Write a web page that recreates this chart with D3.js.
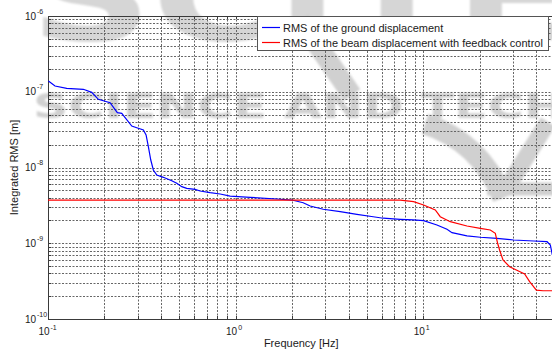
<!DOCTYPE html>
<html>
<head>
<meta charset="utf-8">
<script src="https://cdn.jsdelivr.net/npm/d3@7"></script>
<style>
  html, body { margin: 0; padding: 0; background: #fff; }
  svg { display: block; font-family: "Liberation Sans", Arial, Helvetica, sans-serif; }
</style>
</head>
<body>
<svg id="chart" width="552" height="349"></svg>
<script>
// Integrated RMS of the ground displacement (Hz, m)
const groundFreq = [0.1005, 0.109, 0.1258, 0.1543, 0.171, 0.1855, 0.2142, 0.2342, 0.2472, 0.2796,
  0.2972, 0.3224, 0.3332, 0.3427, 0.353, 0.3643, 0.38, 0.412, 0.4567, 0.4857,
  0.5164, 0.549, 0.608, 0.6465, 0.731, 0.827, 0.935, 1.195, 1.659, 1.994,
  2.291, 2.496, 2.929, 3.609, 4.43, 5.41, 6.12, 7.54, 8.84, 10.04,
  11.83, 13.38, 14.23, 17.1, 20.14, 24.72, 30.31, 38.76, 45.68, 47.57, 48.75];
const groundRms = [1.39e-7, 1.19e-7, 1.11e-7, 1.077e-7, 9.83e-8, 7.95e-8, 7.17e-8, 5.29e-8, 5.19e-8, 3.53e-8,
  3.35e-8, 3.13e-8, 2.69e-8, 1.88e-8, 1.256e-8, 9.27e-9, 7.96e-9, 7.42e-9, 6.69e-9, 6.18e-9,
  5.58e-9, 5.31e-9, 5.15e-9, 4.9e-9, 4.65e-9, 4.47e-9, 4.2e-9, 4.04e-9, 3.84e-9, 3.72e-9,
  3.43e-9, 3.1e-9, 2.81e-9, 2.61e-9, 2.41e-9, 2.24e-9, 2.14e-9, 2.07e-9, 2.03e-9, 1.985e-9,
  1.74e-9, 1.53e-9, 1.38e-9, 1.25e-9, 1.2e-9, 1.162e-9, 1.104e-9, 1.07e-9, 1.048e-9, 9.48e-10, 7.0e-10];

// Integrated RMS of the beam displacement with feedback control (Hz, m)
const beamFreq = [0.1, 7.54, 8.88, 10.04, 11.59, 12.32, 13.93, 17.1, 20.14, 22.77,
  24.21, 24.91, 25.52, 26.61, 28.86, 31.33, 34.7, 36.89, 40.06, 43.5, 50];
const beamRms = [3.72e-9, 3.72e-9, 3.54e-9, 3.2e-9, 2.75e-9, 2.24e-9, 1.925e-9, 1.69e-9, 1.576e-9, 1.496e-9,
  1.353e-9, 9.99e-10, 8.15e-10, 6.01e-10, 4.9e-10, 4.43e-10, 3.93e-10, 3.11e-10, 2.41e-10, 2.36e-10, 2.36e-10];

const seriesNames = ["RMS of the ground displacement", "RMS of the beam displacement with feedback control"];
const seriesColors = ["#0000ff", "#ff0000"];
const xTickExponents = [-1, 0, 1];
const yTickExponents = [-10, -9, -8, -7, -6];
const xLabel = "Frequency [Hz]";
const yLabel = "Integrated RMS [m]";

const svg = d3.select("#chart");
const W = 552, H = 349;
const plot = { left: 48, right: 554.4, top: 16, bottom: 319 };

const x = d3.scaleLog().domain([0.1, 50]).range([plot.left, plot.right]);
const y = d3.scaleLog().domain([1e-10, 1e-6]).range([plot.bottom, plot.top]);

svg.append("rect").attr("width", W).attr("height", H).attr("fill", "#fff");

// ---- publisher watermark (soft grey lettering behind the plot) ----
const defs = svg.append("defs");
defs.append("filter").attr("id", "soft")
  .append("feGaussianBlur").attr("stdDeviation", 0.9);
defs.append("clipPath").attr("id", "plotClip")
  .append("rect").attr("x", plot.left).attr("y", plot.top)
  .attr("width", plot.right - plot.left).attr("height", plot.bottom - plot.top);

const wm = svg.append("g").attr("filter", "url(#soft)").attr("fill", "#d0d0d0").attr("stroke", "#d0d0d0");
wm.append("text")
  .attr("x", 33).attr("y", 118)
  .attr("font-family", "DejaVu Sans").attr("font-weight", "bold").attr("font-size", 34)
  .attr("stroke", "none")
  .attr("textLength", 532).attr("lengthAdjust", "spacingAndGlyphs")
  .text("SCIENCE AND TECH");
wm.append("text")
  .attr("x", 30).attr("y", 40)
  .attr("font-family", "DejaVu Sans").attr("font-weight", "bold").attr("font-size", 120)
  .attr("stroke", "none").attr("fill", "#d6d6d6")
  .attr("textLength", 540).attr("lengthAdjust", "spacingAndGlyphs")
  .text("SCITE");
wm.append("path").attr("fill", "none").attr("stroke-width", 20).attr("stroke-linecap", "butt")
  .attr("d", "M300,20 L352,95");
wm.append("path").attr("fill", "none").attr("stroke-width", 21)
  .attr("d", "M425,124 C460,135 488,160 503,198");
wm.append("path").attr("fill", "none").attr("stroke-width", 17)
  .attr("d", "M548,122 L508,186");
wm.append("path").attr("fill", "none").attr("stroke-width", 13)
  .attr("d", "M487,189 L560,189");

// ---- dotted grid ----
const grid = svg.append("g").attr("stroke", "#666").attr("stroke-width", 1)
  .attr("stroke-dasharray", "2,1.5").attr("fill", "none");
x.ticks().forEach(v => {
  const px = Math.round(x(v)) + 0.5;
  grid.append("line").attr("x1", px).attr("x2", px).attr("y1", plot.top).attr("y2", plot.bottom);
});
y.ticks().forEach(v => {
  const py = Math.round(y(v)) + 0.5;
  grid.append("line").attr("x1", plot.left).attr("x2", plot.right).attr("y1", py).attr("y2", py);
});

// ---- axes with inward ticks ----
const minorY = y.ticks();
const minorX = x.ticks();
const axB = svg.append("g").attr("transform", `translate(0,${plot.bottom})`)
  .call(d3.axisBottom(x).tickValues(minorX).tickSize(-3).tickFormat(""));
const axL = svg.append("g").attr("transform", `translate(${plot.left},0)`)
  .call(d3.axisLeft(y).tickValues(minorY).tickSize(-3).tickFormat(""));
const axT = svg.append("g").attr("transform", `translate(0,${plot.top})`)
  .call(d3.axisTop(x).tickValues(minorX).tickSize(-3).tickFormat(""));
[axB, axL, axT].forEach(g => {
  g.selectAll("path,line").attr("stroke", "#3a3a3a").attr("shape-rendering", "crispEdges");
});

// ---- data lines ----
const line = d3.line().x(d => x(d[0])).y(d => y(d[1]));
const lines = svg.append("g").attr("clip-path", "url(#plotClip)").attr("fill", "none").attr("stroke-width", 1.2);
lines.append("path").attr("stroke", seriesColors[0])
  .attr("d", line(d3.zip(groundFreq, groundRms)));
lines.append("path").attr("stroke", seriesColors[1])
  .attr("d", line(d3.zip(beamFreq, beamRms)));

// ---- tick labels (10 with exponent) ----
const lab = svg.append("g").attr("fill", "#1a1a1a");
yTickExponents.forEach(e => {
  const py = y(Math.pow(10, e));
  lab.append("text").attr("x", 36).attr("y", py + 3.5).attr("text-anchor", "end")
    .attr("font-size", 10).text("10");
  lab.append("text").attr("x", 37).attr("y", py - 2.5)
    .attr("font-size", 7).text(String(e));
});
xTickExponents.forEach(e => {
  const px = x(Math.pow(10, e));
  lab.append("text").attr("x", px + 1.5).attr("y", 335).attr("text-anchor", "end")
    .attr("font-size", 10).text("10");
  lab.append("text").attr("x", px + 2.5).attr("y", 329.5)
    .attr("font-size", 7).text(String(e));
});

// ---- axis titles ----
svg.append("text").attr("x", (plot.left + plot.right) / 2).attr("y", 347)
  .attr("text-anchor", "middle").attr("font-size", 11).attr("fill", "#1a1a1a").text(xLabel);
svg.append("text").attr("transform", `translate(18,${(plot.top + plot.bottom) / 2}) rotate(-90)`)
  .attr("text-anchor", "middle").attr("font-size", 11).attr("fill", "#1a1a1a").text(yLabel);

// ---- legend ----
const leg = svg.append("g");
leg.append("rect").attr("x", 257.5).attr("y", 16.5).attr("width", 291).attr("height", 34)
  .attr("fill", "#fff").attr("stroke", "#555").attr("stroke-width", 1);
seriesNames.forEach((name, i) => {
  const ly = 27.5 + i * 15;
  leg.append("line").attr("x1", 262).attr("x2", 280).attr("y1", ly).attr("y2", ly)
    .attr("stroke", seriesColors[i]).attr("stroke-width", 1.2);
  leg.append("text").attr("x", 283).attr("y", ly + 4).attr("font-size", 11)
    .attr("fill", "#1a1a1a").text(name);
});
</script>
</body>
</html>
